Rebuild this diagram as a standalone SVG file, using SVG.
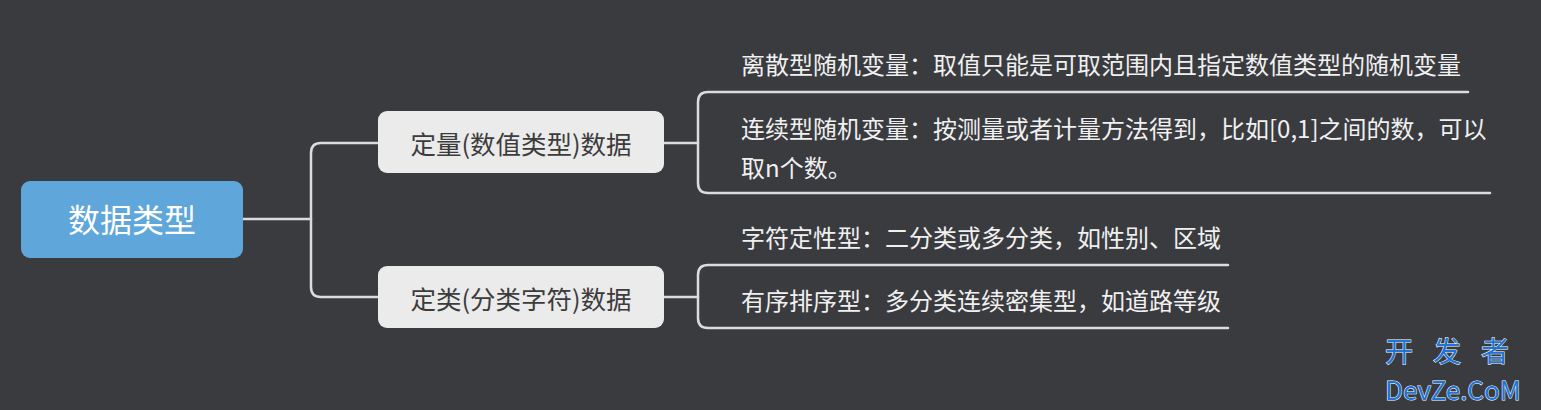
<svg xmlns="http://www.w3.org/2000/svg" width="1541" height="410" viewBox="0 0 1541 410">
<style>
.conn{fill:none;stroke:#dcdcdc;stroke-width:2.5;stroke-linecap:round;stroke-linejoin:round}
.root{fill:#5fa7da}
.mid{fill:#ebebeb}
.rt{font-family:"Noto Sans CJK SC","Noto Sans",sans-serif;font-size:32px;fill:#ffffff;text-anchor:middle;dominant-baseline:central}
.mt{font-family:"Noto Sans CJK SC","Noto Sans",sans-serif;font-size:25.5px;fill:#3c3c3c;text-anchor:middle;dominant-baseline:central}
.lt{font-family:"Noto Sans CJK SC","Noto Sans",sans-serif;font-size:24px;fill:#f0f0f0}
.wm{font-family:"Noto Sans CJK SC","Liberation Sans",sans-serif;fill:#1f74d6;stroke:#ffffff;stroke-width:1;paint-order:stroke}
</style>
<rect width="1541" height="410" fill="#3a3b3f"/>
<g id="connectors">
<path class="conn" d="M243 219 H311"/>
<path class="conn" d="M378 143 H321 Q311 143 311 153 V287 Q311 297 321 297 H378"/>
<path class="conn" d="M664 143 H698"/>
<path class="conn" d="M1468 92 H708 Q698 92 698 102 V183 Q698 193 708 193 H1490"/>
<path class="conn" d="M664 297 H698"/>
<path class="conn" d="M1228 265 H708 Q698 265 698 275 V318 Q698 328 708 328 H1228"/>
</g>
<g id="root">
<rect class="root" x="21" y="181" width="222" height="77" rx="9"/>
<text class="rt" x="132" y="218">数据类型</text>
</g>
<g id="quant">
<rect class="mid" x="378" y="111" width="286" height="62" rx="9"/>
<text class="mt" x="521" y="142">定量(数值类型)数据</text>
</g>
<g id="categ">
<rect class="mid" x="378" y="266" width="286" height="62" rx="9"/>
<text class="mt" x="521" y="297">定类(分类字符)数据</text>
</g>
<g id="leaf-discrete">
<text class="lt" x="741" y="74">离散型随机变量：取值只能是可取范围内且指定数值类型的随机变量</text>
</g>
<g id="leaf-continuous">
<text class="lt" x="741" y="138">连续型随机变量：按测量或者计量方法得到，比如[0,1]之间的数，可以</text>
<text class="lt" x="741" y="177">取n个数。</text>
</g>
<g id="leaf-char">
<text class="lt" x="741" y="247">字符定性型：二分类或多分类，如性别、区域</text>
</g>
<g id="leaf-order">
<text class="lt" x="741" y="310">有序排序型：多分类连续密集型，如道路等级</text>
</g>
<g id="watermark">
<text class="wm" x="1385" y="362" font-size="28" letter-spacing="20">开发者</text>
<text class="wm" x="1385" y="400" font-size="26">DevZe.CoM</text>
</g>
</svg>
